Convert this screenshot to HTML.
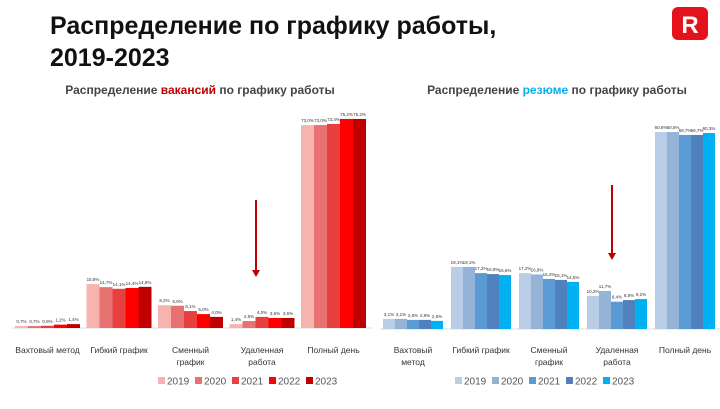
<!DOCTYPE html>
<html><head><meta charset="utf-8"><style>
body{margin:0;width:720px;height:404px;background:#fff;overflow:hidden;font-family:"Liberation Sans",sans-serif}
svg text{font-family:"Liberation Sans",sans-serif}
</style></head><body>
<svg id="c" width="720" height="404">
<text x="50" y="34" font-size="25" font-weight="bold" fill="#111">Распределение по графику работы,</text>
<text x="50" y="66" font-size="25" font-weight="bold" fill="#111">2019-2023</text>
<g><rect x="672" y="7" width="36" height="33" rx="6" fill="#e3121b"/><text x="690" y="33" text-anchor="middle" font-size="24" font-weight="bold" fill="#fff">R</text></g>
<text x="200" y="94" text-anchor="middle" font-size="12" font-weight="bold" fill="#444">Распределение <tspan fill="#c00000">вакансий</tspan> по графику работы</text>
<text x="557" y="94" text-anchor="middle" font-size="12" font-weight="bold" fill="#444">Распределение <tspan fill="#00b0f0">резюме</tspan> по графику работы</text>
</svg>
<script>
const categories=["Вахтовый метод","Гибкий график","Сменный график","Удаленная работа","Полный день"];
const years=["2019","2020","2021","2022","2023"];
const vacValues=[[0.7,0.7,0.8,1.2,1.4],[15.8,14.7,14.1,14.4,14.8],[8.2,8.0,6.1,5.0,4.0],[1.4,2.5,4.0,3.6,3.6],[73.0,73.0,73.4,75.2,75.2]];
const resValues=[[3.1,3.1,2.8,2.8,2.5],[19.1,19.1,17.2,16.9,16.6],[17.2,16.8,15.4,15.1,14.5],[10.2,11.7,8.4,8.9,9.2],[60.6,60.6,59.7,59.7,60.3]];
const vacColors=["#f7b3ae","#e87272","#e8403f","#ff0000","#c00000"];
const resColors=["#b9cde6","#95b3d7","#5b9bd5","#4f81bd","#00b0f0"];
const leftLabels=[["Вахтовый метод"],["Гибкий график"],["Сменный","график"],["Удаленная","работа"],["Полный день"]];
const rightLabels=[["Вахтовый","метод"],["Гибкий график"],["Сменный","график"],["Удаленная","работа"],["Полный день"]];
const svg=document.getElementById('c');const NS="http://www.w3.org/2000/svg";
function mk(t,a,p){const e=document.createElementNS(NS,t);for(const k in a)e.setAttribute(k,a[k]);(p||svg).appendChild(e);return e;}
function chart(o){
 const g=mk('g',{});
 
 
 const y=v=>o.base-v*o.scale;
 const ax=mk('line',{x1:o.x0-3,x2:o.x0+o.gw*5,y1:o.base,y2:o.base,stroke:'#ddd'},g);
 
 
 o.values.forEach((vals,ci)=>{
  const gx=o.x0+ci*o.gw;
  vals.forEach((v,si)=>{
   const bx=gx+si*o.bw;
   const r=mk('rect',{x:bx,y:y(v),width:o.bw,height:o.base-y(v),fill:o.colors[si]},g);
   
   
   const t=mk('text',{x:bx+o.bw/2,y:y(v)-3,'text-anchor':'middle','font-size':4.5,fill:'#333'},g);
   t.textContent=v.toFixed(1).replace('.',',')+'%';
   
   
  });
  o.labels[ci].forEach((ln,li)=>{
   const t=mk('text',{x:gx+o.bw*2.5,y:353+li*12,'text-anchor':'middle','font-size':8.5,fill:'#333'},g);
   t.textContent=ln;
   
   
  });
 });
 years.forEach((yr,i)=>{
  const lx=o.lx+i*37;
  const s=mk('rect',{x:lx,y:377,width:7,height:7,fill:o.colors[i]},g);
  
  
  const t=mk('text',{x:lx+9,y:384.5,'font-size':10,fill:'#555'},g);
  t.textContent=yr;
  
  
 });
 const a=mk('line',{x1:o.ax,x2:o.ax,y1:o.ay1,y2:o.ay2-6,stroke:'#c00000','stroke-width':2},g);
 
 
 mk('polygon',{points:`${o.ax-4},${o.ay2-7} ${o.ax+4},${o.ay2-7} ${o.ax},${o.ay2}`,fill:'#c00000'},g);
}
chart({name:'vacancies-chart',values:vacValues,colors:vacColors,labels:leftLabels,x0:15,gw:71.5,bw:13,base:328,scale:2.78,lx:158,ax:256,ay1:200,ay2:277});
chart({name:'resumes-chart',values:resValues,colors:resColors,labels:rightLabels,x0:383,gw:68,bw:12,base:329,scale:3.25,lx:455,ax:612,ay1:185,ay2:260});
</script>
</body></html>
